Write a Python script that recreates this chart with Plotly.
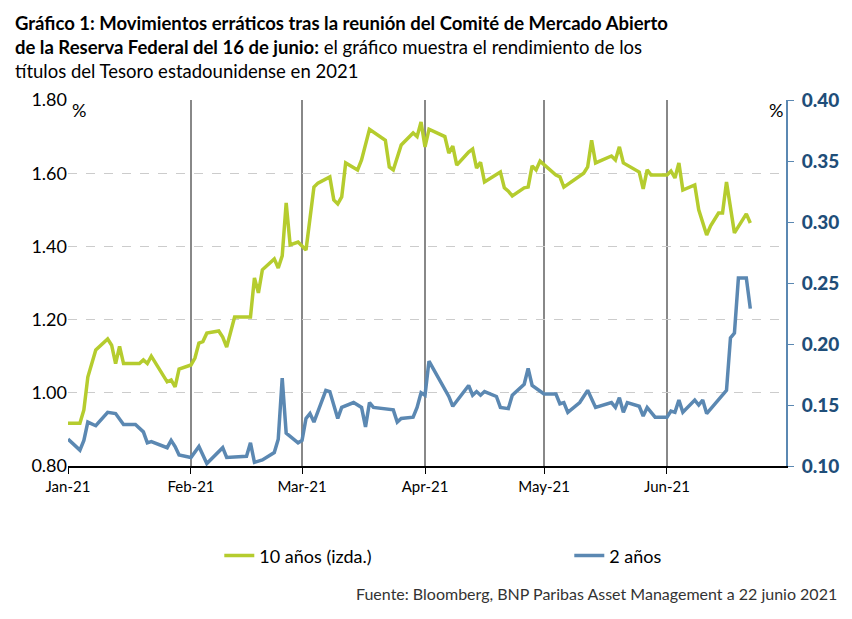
import plotly.graph_objects as go

g_dates = ["2021-01-01","2021-01-04","2021-01-05","2021-01-06","2021-01-08","2021-01-11","2021-01-12","2021-01-13","2021-01-14","2021-01-15","2021-01-19","2021-01-20","2021-01-21","2021-01-22","2021-01-26","2021-01-27","2021-01-28","2021-01-29",
"2021-02-01","2021-02-02","2021-02-03","2021-02-04","2021-02-05","2021-02-08","2021-02-09","2021-02-10","2021-02-12","2021-02-16","2021-02-17","2021-02-18","2021-02-19","2021-02-22","2021-02-23","2021-02-24","2021-02-25","2021-02-26","2021-02-28",
"2021-03-02","2021-03-04","2021-03-05","2021-03-08","2021-03-09","2021-03-10","2021-03-11","2021-03-12","2021-03-15","2021-03-16","2021-03-18","2021-03-22","2021-03-23","2021-03-24","2021-03-26","2021-03-29","2021-03-30","2021-03-31",
"2021-04-01","2021-04-02","2021-04-06","2021-04-07","2021-04-08","2021-04-09","2021-04-12","2021-04-13","2021-04-14","2021-04-15","2021-04-16","2021-04-20","2021-04-21","2021-04-22","2021-04-23","2021-04-26","2021-04-27","2021-04-28","2021-04-29","2021-04-30",
"2021-05-04","2021-05-05","2021-05-06","2021-05-11","2021-05-12","2021-05-13","2021-05-14","2021-05-18","2021-05-19","2021-05-20","2021-05-21","2021-05-25","2021-05-26","2021-05-27","2021-05-28",
"2021-06-01","2021-06-02","2021-06-03","2021-06-04","2021-06-05","2021-06-08","2021-06-09","2021-06-11","2021-06-12","2021-06-14","2021-06-15","2021-06-16","2021-06-18","2021-06-21","2021-06-22"]
g_vals = [0.917,0.917,0.953,1.043,1.117,1.147,1.13,1.08,1.127,1.08,1.08,1.09,1.08,1.10,1.03,1.035,1.016,1.065,
1.076,1.095,1.136,1.14,1.163,1.169,1.152,1.125,1.207,1.207,1.314,1.273,1.336,1.366,1.341,1.374,1.519,1.404,1.412,
1.39,1.562,1.573,1.59,1.527,1.516,1.535,1.628,1.609,1.636,1.72,1.69,1.617,1.609,1.677,1.71,1.70,1.74,
1.672,1.72,1.70,1.655,1.674,1.622,1.658,1.666,1.614,1.63,1.576,1.603,1.56,1.551,1.538,1.56,1.562,1.62,1.609,1.633,
1.595,1.59,1.562,1.60,1.617,1.69,1.628,1.647,1.636,1.672,1.628,1.603,1.557,1.609,1.595,
1.595,1.606,1.587,1.628,1.554,1.568,1.50,1.431,1.456,1.491,1.491,1.576,1.437,1.489,1.464]

b_dates = ["2021-01-01","2021-01-04","2021-01-05","2021-01-06","2021-01-08","2021-01-11","2021-01-13","2021-01-15","2021-01-18","2021-01-20","2021-01-21","2021-01-22","2021-01-26","2021-01-27","2021-01-28","2021-01-29",
"2021-02-01","2021-02-03","2021-02-05","2021-02-09","2021-02-10","2021-02-15","2021-02-16","2021-02-17","2021-02-19","2021-02-22","2021-02-23","2021-02-24","2021-02-25","2021-02-28",
"2021-03-01","2021-03-02","2021-03-03","2021-03-04","2021-03-07","2021-03-08","2021-03-10","2021-03-11","2021-03-14","2021-03-16","2021-03-17","2021-03-18","2021-03-19","2021-03-23","2021-03-24","2021-03-25","2021-03-26","2021-03-29","2021-03-30","2021-03-31",
"2021-04-01","2021-04-02","2021-04-05","2021-04-07","2021-04-08","2021-04-12","2021-04-13","2021-04-14","2021-04-15","2021-04-16","2021-04-19","2021-04-20","2021-04-22","2021-04-23","2021-04-26","2021-04-27","2021-04-28",
"2021-05-01","2021-05-04","2021-05-05","2021-05-06","2021-05-07","2021-05-10","2021-05-12","2021-05-14","2021-05-18","2021-05-19","2021-05-20","2021-05-21","2021-05-22","2021-05-25","2021-05-26","2021-05-27","2021-05-29",
"2021-06-01","2021-06-02","2021-06-03","2021-06-04","2021-06-05","2021-06-08","2021-06-09","2021-06-10","2021-06-11","2021-06-12","2021-06-15","2021-06-16","2021-06-17","2021-06-18","2021-06-19","2021-06-21","2021-06-22"]
b_vals = [0.122,0.113,0.121,0.136,0.133,0.144,0.143,0.134,0.134,0.128,0.119,0.120,0.115,0.121,0.116,0.109,
0.107,0.116,0.102,0.115,0.107,0.108,0.119,0.103,0.105,0.111,0.122,0.172,0.127,0.119,
0.121,0.139,0.143,0.136,0.162,0.161,0.139,0.148,0.152,0.148,0.132,0.152,0.148,0.146,0.146,0.136,0.139,0.140,0.148,0.160,
0.158,0.186,0.168,0.157,0.149,0.166,0.158,0.161,0.158,0.161,0.157,0.148,0.147,0.158,0.167,0.180,0.166,
0.159,0.159,0.151,0.152,0.144,0.152,0.162,0.148,0.152,0.148,0.156,0.144,0.152,0.149,0.141,0.148,0.140,
0.140,0.145,0.144,0.154,0.144,0.154,0.150,0.154,0.143,0.147,0.158,0.162,0.205,0.209,0.254,0.254,0.229]

month_ticks = ["2021-01-01","2021-02-01","2021-03-01","2021-04-01","2021-05-01","2021-06-01"]
month_labels = ["Jan-21","Feb-21","Mar-21","Apr-21","May-21","Jun-21"]

GREEN = "#b5cc2e"
BLUE = "#5b88b2"
FONT = "Lato"

fig = go.Figure()
fig.add_trace(go.Scatter(x=g_dates, y=g_vals, mode="lines", name="10 años (izda.)",
                         line=dict(color=GREEN, width=3.5)))
fig.add_trace(go.Scatter(x=b_dates, y=b_vals, mode="lines", name="2 años", yaxis="y2",
                         line=dict(color=BLUE, width=3.5)))

title_text = ("<b>Gráfico 1: Movimientos erráticos tras la reunión del Comité de Mercado Abierto<br>"
              "de la Reserva Federal del 16 de junio:</b> el gráfico muestra el rendimiento de los<br>"
              "títulos del Tesoro estadounidense en 2021")

fig.update_layout(
    width=852, height=619,
    margin=dict(l=60, r=74, t=92, b=161, autoexpand=False),
    plot_bgcolor="white", paper_bgcolor="white",
    font=dict(family=FONT, size=17, color="black"),
    xaxis=dict(type="date", range=["2021-01-01", "2021-07-01"], tickvals=month_ticks, ticktext=month_labels,
               showgrid=True, gridcolor="#888888", gridwidth=1.5, showline=True, linecolor="black", linewidth=1.5,
               ticks="outside", ticklen=6, tickcolor="black", tickfont=dict(size=15), zeroline=False),
    yaxis=dict(range=[0.8, 1.8], tickvals=[0.8,1.0,1.2,1.4,1.6,1.8], tickformat=".2f",
               showgrid=True, gridcolor="#cccccc", griddash="dash", gridwidth=1, zeroline=False,
               tickfont=dict(size=18)),
    yaxis2=dict(range=[0.10, 0.40], tickvals=[0.10,0.15,0.20,0.25,0.30,0.35,0.40], tickformat=".2f",
                overlaying="y", side="right", showgrid=False, zeroline=False, ticklabelstandoff=4,
                ticks="outside", ticklen=6, tickcolor=BLUE,
                tickfont=dict(size=19, color="#1f4e79", family=FONT + " Black"), showline=True, linecolor=BLUE, linewidth=2),
    legend=dict(orientation="h", xref="container", x=0.248, xanchor="left", yref="container", y=0.115, yanchor="middle",
                font=dict(size=18), entrywidth=305, entrywidthmode="pixels"),
    annotations=[
        dict(text=title_text, x=-0.0763, xref="paper", xanchor="left", align="left", y=1.251, yref="paper", yanchor="top",
             yshift=-2, showarrow=False, font=dict(size=18.5, family=FONT)),
        dict(text="%", x=0.0, xref="paper", xanchor="left", y=1.0, yref="paper", yanchor="top", showarrow=False, xshift=2, yshift=3, font=dict(size=18)),
        dict(text="%", x=1.0, xref="paper", xanchor="right", y=1.0, yref="paper", yanchor="top", showarrow=False, xshift=-1, yshift=3, font=dict(size=18)),
        dict(text="Fuente: Bloomberg, BNP Paribas Asset Management a 22 junio 2021", x=1.074, xref="paper", xanchor="right",
             y=-0.347, yref="paper", yanchor="middle", showarrow=False, font=dict(size=16, color="#333333")),
    ],
)
fig.write_html("out.html")
